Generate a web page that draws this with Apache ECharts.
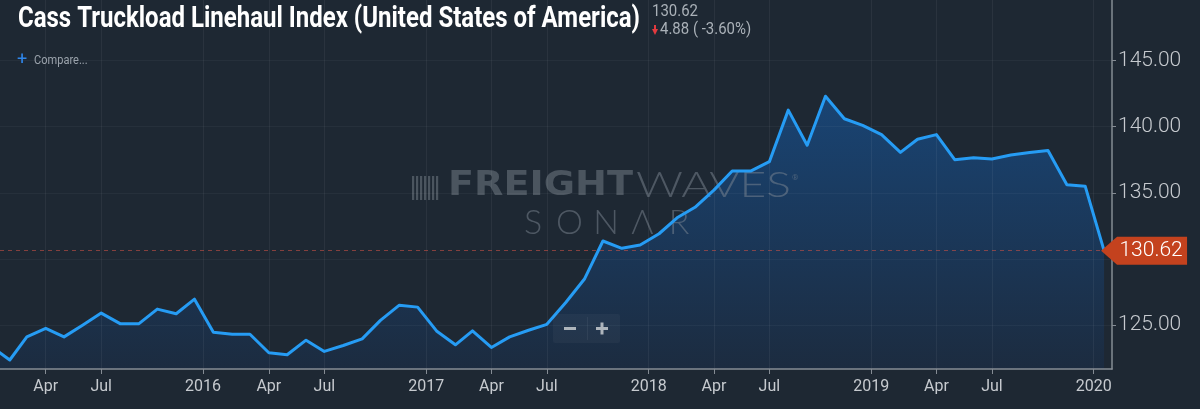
<!DOCTYPE html>
<html><head><meta charset="utf-8">
<script src="https://cdn.jsdelivr.net/npm/echarts@6/dist/echarts.min.js"></script>
<style>html,body{margin:0;padding:0;background:#1e2833;}#c{width:1200px;height:409px;}</style>
</head><body><div id="c"></div>
<script>
// ---- data ----
const months = [
 '2015-01-01','2015-02-01','2015-03-01','2015-04-01','2015-05-01','2015-06-01','2015-07-01','2015-08-01','2015-09-01','2015-10-01','2015-11-01','2015-12-01',
 '2016-01-01','2016-02-01','2016-03-01','2016-04-01','2016-05-01','2016-06-01','2016-07-01','2016-08-01','2016-09-01','2016-10-01','2016-11-01','2016-12-01',
 '2017-01-01','2017-02-01','2017-03-01','2017-04-01','2017-05-01','2017-06-01','2017-07-01','2017-08-01','2017-09-01','2017-10-01','2017-11-01','2017-12-01',
 '2018-01-01','2018-02-01','2018-03-01','2018-04-01','2018-05-01','2018-06-01','2018-07-01','2018-08-01','2018-09-01','2018-10-01','2018-11-01','2018-12-01',
 '2019-01-01','2019-02-01','2019-03-01','2019-04-01','2019-05-01','2019-06-01','2019-07-01','2019-08-01','2019-09-01','2019-10-01','2019-11-01','2019-12-01',
 '2020-01-01'
];
const index2015 = [123.4, 122.35, 124.1, 124.75, 124.1, 125.0, 125.9, 125.1, 125.1, 126.2, 125.85, 126.95];
const index2016 = [124.45, 124.3, 124.3, 122.9, 122.75, 123.85, 123.0, 123.45, 123.95, 125.35, 126.5, 126.35];
const index2017 = [124.55, 123.5, 124.55, 123.3, 124.1, 124.6, 125.05, 126.7, 128.5, 131.35, 130.8, 131.05];
const index2018 = [131.9, 133.15, 133.9, 135.2, 136.65, 136.65, 137.35, 141.25, 138.6, 142.3, 140.6, 140.1];
const index2019 = [139.4, 138.05, 139.05, 139.4, 137.5, 137.65, 137.55, 137.85, 138.05, 138.2, 135.6, 135.5];
const index2020 = [130.62];

const xTickDates = ['2015-04-01','2015-07-01','2015-12-15','2016-04-01','2016-07-01','2016-12-15',
  '2017-04-01','2017-07-01','2017-12-15','2018-04-01','2018-07-01','2018-12-15','2019-04-01','2019-07-01','2019-12-15'];
const xTickLabels = ['Apr','Jul','2016','Apr','Jul','2017','Apr','Jul','2018','Apr','Jul','2019','Apr','Jul','2020'];
const yTickValues = [125, 130, 135, 140, 145];
const yLabelValues = [125, 135, 140, 145];
const xRange = ['2015-01-16', '2020-01-14'];
const yRange = [121.67, 149.58];

const titleText = 'Cass Truckload Linehaul Index (United States of America)';
const lastValueText = '130.62';
const changeText = '4.88 ( -3.60%)';

// ---- build ----
const toTs = s => { const p = s.split('-').map(Number); return new Date(p[0], p[1] - 1, p[2]).getTime(); };
const values = [].concat(index2015, index2016, index2017, index2018, index2019, index2020);
const seriesData = months.map((m, i) => [toTs(m), values[i]]);
const xTickTs = xTickDates.map(toTs);
const last = seriesData[seriesData.length - 1];

const mctx = document.createElement('canvas').getContext('2d');
function fit(font, text, target) { mctx.font = font; return target / mctx.measureText(text).width; }

const titleFont = 'bold 29px Roboto';
const titleScale = fit(titleFont, titleText, 622);
const smallFont = '17px Roboto';
const fwFont = '900 34px "DejaVu Sans"';
const fwScale = fit(fwFont, 'FREIGHT', 185);
const wavesFont = '300 35px Lato';
const wavesScale = fit(wavesFont, 'WAVES', 155);

function txt(x, y, text, font, fill, extra) {
  return Object.assign({
    type: 'text', x: x, y: y, silent: true,
    style: { text: text, font: font, fill: fill, textAlign: 'left', align: 'left', textVerticalAlign: 'top', verticalAlign: 'top' }
  }, extra || {});
}

const wmColor = 'rgba(120,129,140,0.5)';
const wmThin = 'rgba(125,135,147,0.5)';
const sonarLetters = ['S', 'O', 'N', 'Λ', 'R'];
const iconBars = [0, 4, 8, 12, 16, 20, 24].map(dx => ({
  type: 'rect', silent: true, shape: { x: 412 + dx, y: 176, width: 2.2, height: 24 }, style: { fill: wmColor }
}));

const graphics = [
  txt(18, 5, titleText, titleFont, '#ffffff', { scaleX: titleScale, z: 10 }),
  txt(652, 3, lastValueText, smallFont, '#aab1b8', { scaleX: 0.88, z: 10 }),
  { type: 'polygon', silent: true, z: 10, shape: { points: [[652, 29], [658, 29], [655, 35]] }, style: { fill: '#e23a3f' } },
  { type: 'rect', silent: true, z: 10, shape: { x: 654, y: 25, width: 2, height: 5 }, style: { fill: '#e23a3f' } },
  txt(660, 21, changeText, smallFont, '#aab1b8', { scaleX: 0.88, z: 10 }),
  txt(17, 51, '+', '18px Roboto', '#2f86ea', { z: 10 }),
  txt(34, 54, 'Compare...', '13px Roboto', '#9aa2ab', { scaleX: 0.85, z: 10 }),
  // watermark
  txt(448, 169, 'FREIGHT', fwFont, wmColor, { scaleX: fwScale, z: 2 }),
  txt(636, 168, 'WAVES', wavesFont, wmThin, { scaleX: wavesScale, z: 2 }),
  txt(792, 174, '®', '8px Roboto', wmThin, { z: 2 })
].concat(iconBars.map(b => Object.assign(b, { z: 2 })))
 .concat(sonarLetters.map((l, i) => ({
   type: 'text', silent: true, z: 2, x: 533 + i * 36.5, y: 206,
   style: { text: l, font: '300 34px Lato', fill: wmThin, textAlign: 'center', align: 'center', textVerticalAlign: 'top', verticalAlign: 'top' }
 })))
 .concat([
  { type: 'rect', silent: true, z: 10, shape: { x: 553, y: 314, width: 67, height: 29, r: 2 }, style: { fill: 'rgba(255,255,255,0.035)' } },
  { type: 'rect', silent: true, z: 10, shape: { x: 587, y: 317, width: 1, height: 23 }, style: { fill: 'rgba(255,255,255,0.06)' } },
  { type: 'rect', silent: true, z: 10, shape: { x: 564, y: 327, width: 12, height: 3 }, style: { fill: '#aeb5bc' } },
  { type: 'rect', silent: true, z: 10, shape: { x: 596, y: 327, width: 12, height: 3 }, style: { fill: '#aeb5bc' } },
  { type: 'rect', silent: true, z: 10, shape: { x: 600.5, y: 322.5, width: 3, height: 12 }, style: { fill: '#aeb5bc' } }
 ]);

const axisColor = '#858c94';
const labelColor = '#c6cacf';

const option = {
  backgroundColor: '#1e2833',
  animation: false,
  grid: { left: 0, right: 88, top: 0, bottom: 40, containLabel: false, outerBoundsMode: 'none' },
  xAxis: {
    type: 'value', z: 2,
    min: toTs(xRange[0]), max: toTs(xRange[1]),
    axisLine: { show: true, onZero: false, lineStyle: { color: axisColor, width: 1.5 } },
    axisTick: { show: true, customValues: xTickTs, length: 5, lineStyle: { color: axisColor } },
    axisLabel: {
      customValues: xTickTs, color: labelColor, fontSize: 16, fontFamily: 'Roboto', margin: 10,
      formatter: v => { const i = xTickTs.indexOf(v); return i >= 0 ? xTickLabels[i] : ''; }
    },
    splitLine: { show: true, lineStyle: { color: 'rgba(255,255,255,0.055)', width: 1 } }
  },
  yAxis: {
    type: 'value', position: 'right', z: 2,
    min: yRange[0], max: yRange[1],
    axisLine: { show: true, lineStyle: { color: axisColor, width: 1.5 } },
    axisTick: { show: true, customValues: yTickValues, length: 4, lineStyle: { color: axisColor } },
    axisLabel: {
      customValues: yLabelValues, color: labelColor, fontSize: 21, fontWeight: 300, fontFamily: 'Roboto', margin: 6,
      formatter: v => v.toFixed(2)
    },
    splitLine: { show: true, lineStyle: { color: 'rgba(255,255,255,0.04)', width: 1 } }
  },
  graphic: { elements: graphics },
  series: [
    {
      name: 'area', type: 'line', z: 1, data: seriesData, showSymbol: false, silent: true,
      lineStyle: { width: 0, opacity: 0 },
      areaStyle: {
        color: new echarts.graphic.LinearGradient(0, 0, 0, 1, [
          { offset: 0, color: '#17508f' },
          { offset: 1, color: '#1b2d45' }
        ])
      }
    },
    {
      name: 'Cass Truckload Linehaul Index', type: 'line', z: 3, data: seriesData, showSymbol: false, silent: true,
      lineStyle: { width: 3, color: '#269cf4', join: 'round' },
      itemStyle: { color: '#269cf4' },
      markLine: {
        silent: true, symbol: 'none', animation: false,
        lineStyle: { color: 'rgba(200,80,70,0.6)', type: [4, 4], width: 1 },
        label: { show: false },
        data: [{ yAxis: last[1] }]
      },
      markPoint: {
        silent: true, animation: false,
        symbol: 'path://M0,14L16,0L86,0L86,28L16,28Z',
        symbolSize: [86, 28], symbolKeepAspect: false, symbolOffset: [40, 0],
        itemStyle: { color: '#c4421e' },
        label: { show: true, position: 'inside', offset: [7, 0], color: '#ffffff', fontSize: 21, fontWeight: 300, fontFamily: 'Roboto',
          formatter: p => Number(p.value).toFixed(2) },
        data: [{ coord: [last[0], last[1]], value: last[1] }]
      }
    }
  ]
};

const chart = echarts.init(document.getElementById('c'), null, { renderer: 'canvas' });
chart.setOption(option);
</script>
</body></html>
